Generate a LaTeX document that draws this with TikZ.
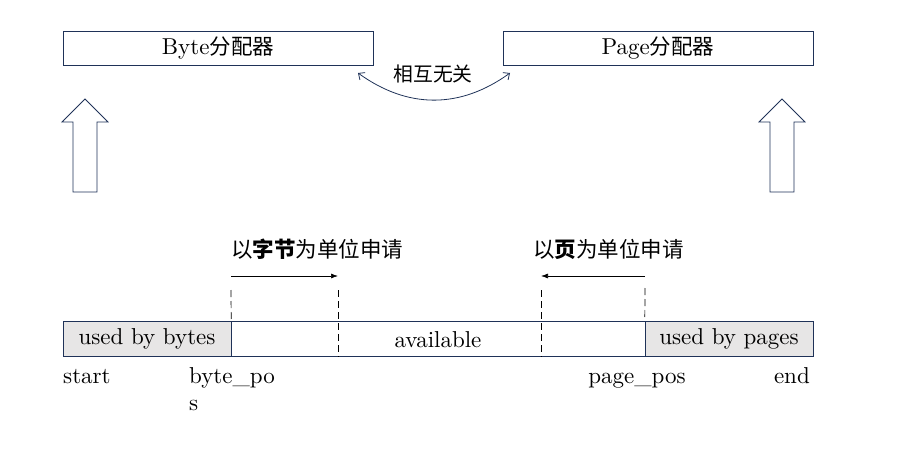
\documentclass[tikz,border=0pt]{standalone}
\usepackage{fontspec}
\setmainfont{lmroman10-regular}[Extension=.otf,BoldFont=lmroman10-bold]
\newfontfamily\cjk{Noto Sans CJK SC}[Scale=0.935]
\usetikzlibrary{positioning,arrows.meta}
\definecolor{navy}{RGB}{31,50,88}
\definecolor{usedgray}{RGB}{231,230,230}
\tikzset{
  box/.style={draw=navy,rectangle,minimum width=310pt,minimum height=34pt,inner sep=0pt},
  part/.style={draw=navy,rectangle,minimum height=35pt,inner sep=0pt},
  lbl/.style={inner sep=0pt},
  blk/.style={draw=navy,line width=0.8pt,fill=white},
  reqmark/.style={dashed,dash pattern=on 7pt off 4pt,line width=0.7pt},
  req/.style={line width=0.7pt,-{Latex[length=7pt,width=5pt]}}
}
\begin{document}
\begin{tikzpicture}[x=1pt,y=-1pt,font=\fontsize{23}{28}\selectfont]
\useasboundingbox (0,0) rectangle (920,449);
% allocators
\node[box] (bytealloc) at (218,48) {Byte{\cjk 分配器}};
\node[box] (pagealloc) at (658,48) {Page{\cjk 分配器}};
\node[lbl] (rel) at (433,74) {\cjk\fontsize{21.2}{25}\selectfont 相互无关};
\coordinate (relL) at (358,73);
\coordinate (relR) at (510,73);
\draw[navy,line width=0.8pt,{Straight Barb[length=5pt,width=9pt]}-{Straight Barb[length=5pt,width=9pt]}]
  (relL) .. controls (408,109) and (460,109) .. (relR);
% block arrows
\foreach \cx in {85,782}
  \draw[blk] (\cx-12,192) -- (\cx-12,122) -- (\cx-23,122) -- (\cx,99)
    -- (\cx+23,122) -- (\cx+12,122) -- (\cx+12,192) -- cycle;
% memory bar
\node[part,minimum width=750pt] (bar) at (438,338.5) {};
\node[part,fill=usedgray,minimum width=168pt] (usedbytes) at (147,338.5) {used by bytes};
\node[part,fill=usedgray,minimum width=168pt] (usedpages) at (729,338.5) {used by pages};
\node[lbl] (avail) at (438,340) {available};
% request marks
\coordinate (b0) at (231,290);
\coordinate (b1) at (338,290);
\coordinate (p1) at (541,290);
\coordinate (p0) at (645,288);
\draw[reqmark] (b0) -- (usedbytes.north east);
\draw[reqmark] (b1) -- (b1 |- bar.south);
\draw[reqmark] (p1) -- (p1 |- bar.south);
\draw[reqmark] (p0) -- (usedpages.north west);
\draw[req] (231,276) coordinate (ba) -- (338,276) coordinate (bb);
\draw[req] (645,276) coordinate (pa) -- (541,276) coordinate (pb);
\node[lbl,anchor=west] (bytereq) at (231,249) {\cjk 以{\bfseries 字节}为单位申请};
\node[lbl,anchor=west] (pagereq) at (533,249) {\cjk 以{\bfseries 页}为单位申请};
% positions
\node[lbl,anchor=base west] (start) at (63,383) {start};
\node[lbl,anchor=base west] (bytepos) at (189,383) {byte\_po};
\node[lbl,anchor=base west] (bytepos2) at (189,410) {s};
\node[lbl,anchor=base] (pagepos) at (637,383) {page\_pos};
\node[lbl,anchor=base east] (endlbl) at (810,383) {end};
\end{tikzpicture}
\end{document}
